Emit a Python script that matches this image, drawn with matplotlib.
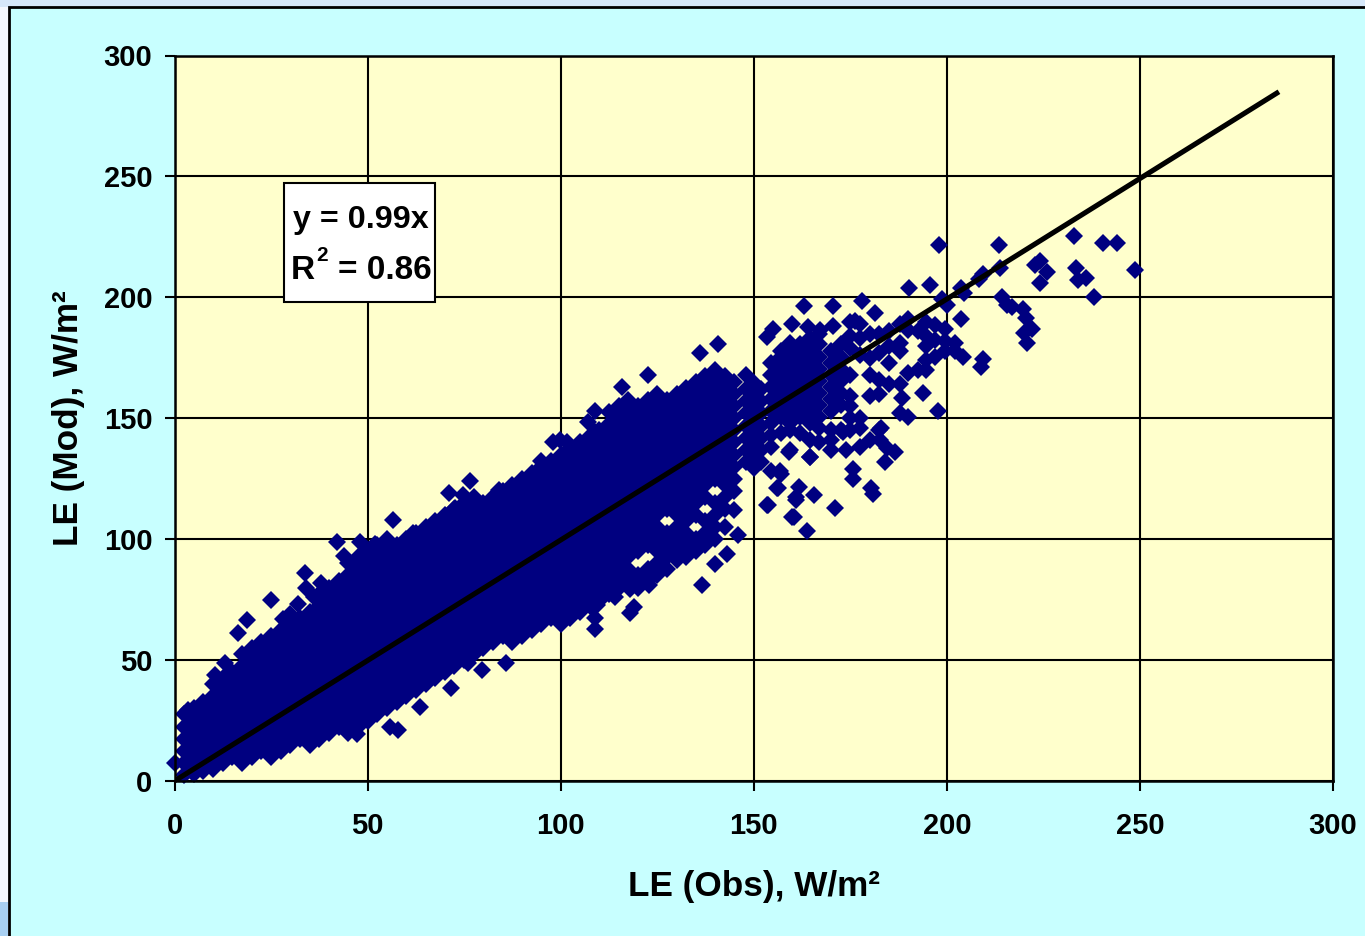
import matplotlib
matplotlib.use('Agg')
import matplotlib.pyplot as plt
from matplotlib.patches import Rectangle

plt.rcParams['font.family'] = ['Liberation Sans', 'DejaVu Sans']
plt.rcParams['font.weight'] = 'bold'

# dense part of the cloud, read column by column
col_x = [2.5, 5, 7.5, 10, 12.5, 15, 17.5, 20, 22.5, 25, 27.5, 30, 32.5, 35, 37.5, 40, 42.5, 45, 47.5, 50,
         52.5, 55, 57.5, 60, 62.5, 65, 67.5, 70, 72.5, 75, 77.5, 80, 82.5, 85, 87.5, 90, 92.5, 95, 97.5, 100,
         102.5, 105, 107.5, 110, 112.5, 115, 117.5, 120, 122.5, 125, 127.5, 130, 132.5, 135, 137.5, 140, 142.5, 145,
         148, 150, 152, 154.5, 157, 159.5, 162, 164.5, 167, 170, 172.5, 175, 177.5, 180, 182.5, 185, 188, 190, 192.5, 194.5, 197, 199.5, 202]
col_y = [
    [2.5, 7.5, 12.5, 17.5, 22.5, 27.5],
    [3, 5, 10, 15, 20, 25, 30],
    [4, 7.5, 12.5, 17.5, 22.5, 27.5, 32.5],
    [5, 10, 15, 20, 25, 30, 35, 40],
    [7.5, 12.5, 17.5, 22.5, 27.5, 32.5, 37.5, 42.5],
    [10, 15, 20, 25, 30, 35, 40, 45],
    [7.5, 12.5, 17.5, 22.5, 27.5, 32.5, 37.5, 42.5, 47.5, 52.5],
    [10, 15, 20, 25, 30, 35, 40, 45, 50, 55],
    [12.5, 17.5, 22.5, 27.5, 32.5, 37.5, 42.5, 47.5, 52.5, 57.5],
    [10, 15, 20, 25, 30, 35, 40, 45, 50, 55, 60],
    [12.5, 17.5, 22.5, 27.5, 32.5, 37.5, 42.5, 47.5, 52.5, 57.5, 62.5],
    [15, 20, 25, 30, 35, 40, 45, 50, 55, 60, 65],
    [17.5, 22.5, 27.5, 32.5, 37.5, 42.5, 47.5, 52.5, 57.5, 62.5, 67.5],
    [15, 20, 25, 30, 35, 40, 45, 50, 55, 60, 65, 70],
    [17.5, 22.5, 27.5, 32.5, 37.5, 42.5, 47.5, 52.5, 57.5, 62.5, 67.5, 72.5, 77.5],
    [20, 25, 30, 35, 40, 45, 50, 55, 60, 65, 70, 75, 80],
    [22.5, 27.5, 32.5, 37.5, 42.5, 47.5, 52.5, 57.5, 62.5, 67.5, 72.5, 77.5, 82.5],
    [20, 25, 30, 35, 40, 45, 50, 55, 60, 65, 70, 75, 80, 85, 90],
    [22.5, 27.5, 32.5, 37.5, 42.5, 47.5, 52.5, 57.5, 62.5, 67.5, 72.5, 77.5, 82.5, 87.5, 92.5],
    [25, 30, 35, 40, 45, 50, 55, 60, 65, 70, 75, 80, 85, 90, 95],
    [27.5, 32.5, 37.5, 42.5, 47.5, 52.5, 57.5, 62.5, 67.5, 72.5, 77.5, 82.5, 87.5, 92.5, 97.5],
    [30, 35, 40, 45, 50, 55, 60, 65, 70, 75, 80, 85, 90, 95, 100],
    [32.5, 37.5, 42.5, 47.5, 52.5, 57.5, 62.5, 67.5, 72.5, 77.5, 82.5, 87.5, 92.5, 97.5],
    [35, 40, 45, 50, 55, 60, 65, 70, 75, 80, 85, 90, 95, 100],
    [37.5, 42.5, 47.5, 52.5, 57.5, 62.5, 67.5, 72.5, 77.5, 82.5, 87.5, 92.5, 97.5, 102.5],
    [40, 45, 50, 55, 60, 65, 70, 75, 80, 85, 90, 95, 100, 105],
    [42.5, 47.5, 52.5, 57.5, 62.5, 67.5, 72.5, 77.5, 82.5, 87.5, 92.5, 97.5, 102.5, 107.5],
    [45, 50, 55, 60, 65, 70, 75, 80, 85, 90, 95, 100, 105, 110],
    [47.5, 52.5, 57.5, 62.5, 67.5, 72.5, 77.5, 82.5, 87.5, 92.5, 97.5, 102.5, 107.5, 112.5],
    [50, 55, 60, 65, 70, 75, 80, 85, 90, 95, 100, 105, 110, 115],
    [52.5, 57.5, 62.5, 67.5, 72.5, 77.5, 82.5, 87.5, 92.5, 97.5, 102.5, 107.5, 112.5, 117.5],
    [55, 60, 65, 70, 75, 80, 85, 90, 95, 100, 105, 110, 115],
    [57.5, 62.5, 67.5, 72.5, 77.5, 82.5, 87.5, 92.5, 97.5, 102.5, 107.5, 112.5, 117.5],
    [60, 65, 70, 75, 80, 85, 90, 95, 100, 105, 110, 115, 120],
    [57.5, 62.5, 67.5, 72.5, 77.5, 82.5, 87.5, 92.5, 97.5, 102.5, 107.5, 112.5, 117.5, 122.5],
    [60, 65, 70, 75, 80, 85, 90, 95, 100, 105, 110, 115, 120, 125],
    [62.5, 67.5, 72.5, 77.5, 82.5, 87.5, 92.5, 97.5, 102.5, 107.5, 112.5, 117.5, 122.5, 127.5],
    [65, 70, 75, 80, 85, 90, 95, 100, 105, 110, 115, 120, 125, 130],
    [67.5, 72.5, 77.5, 82.5, 87.5, 92.5, 97.5, 102.5, 107.5, 112.5, 117.5, 122.5, 127.5, 132.5],
    [65, 70, 75, 80, 85, 90, 95, 100, 105, 110, 115, 120, 125, 130, 135],
    [67.5, 72.5, 77.5, 82.5, 87.5, 92.5, 97.5, 102.5, 107.5, 112.5, 117.5, 122.5, 127.5, 132.5, 137.5],
    [70, 75, 80, 85, 90, 95, 100, 105, 110, 115, 120, 125, 130, 135, 140],
    [72.5, 77.5, 82.5, 87.5, 92.5, 97.5, 102.5, 107.5, 112.5, 117.5, 122.5, 127.5, 132.5, 137.5, 142.5],
    [75, 80, 85, 90, 95, 100, 105, 110, 115, 120, 125, 130, 135, 140, 145],
    [77.5, 82.5, 87.5, 92.5, 97.5, 102.5, 107.5, 112.5, 117.5, 122.5, 127.5, 132.5, 137.5, 142.5, 147.5, 152.5],
    [80, 85, 90, 95, 100, 105, 110, 115, 120, 125, 130, 135, 140, 145, 150, 155],
    [82.5, 87.5, 92.5, 97.5, 102.5, 107.5, 112.5, 117.5, 122.5, 127.5, 132.5, 137.5, 142.5, 147.5, 152.5, 157.5],
    [80, 85, 95, 100, 105, 110, 115, 120, 125, 130, 135, 140, 145, 150, 155],
    [82.5, 87.5, 97.5, 102.5, 107.5, 112.5, 117.5, 122.5, 127.5, 132.5, 137.5, 142.5, 147.5, 152.5, 157.5],
    [85, 90, 95, 100, 105, 110, 115, 120, 125, 130, 135, 140, 145, 150, 155, 160],
    [87.5, 92.5, 97.5, 102.5, 112.5, 117.5, 122.5, 127.5, 132.5, 137.5, 142.5, 147.5, 152.5, 157.5],
    [95, 100, 105, 110, 115, 120, 125, 130, 135, 140, 145, 150, 155, 160],
    [92.5, 97.5, 102.5, 107.5, 112.5, 117.5, 122.5, 127.5, 132.5, 137.5, 142.5, 147.5, 152.5, 157.5, 162.5],
    [95, 100, 110, 115, 120, 125, 130, 135, 140, 145, 150, 155, 160, 165],
    [97.5, 102.5, 107.5, 117.5, 122.5, 127.5, 132.5, 137.5, 142.5, 147.5, 152.5, 157.5, 162.5, 167.5],
    [100, 105, 110, 115, 125, 130, 135, 140, 145, 150, 155, 160, 165, 170],
    [105, 112.5, 117.5, 122.5, 127.5, 132.5, 137.5, 142.5, 147.5, 152.5, 157.5, 162.5, 167.5],
    [112, 120, 125, 130, 135, 140, 145, 150, 155, 160, 165],
    [132, 137, 142, 147, 152, 157, 162, 168],
    [129.5, 134.5, 139.5, 144.5, 149.5, 154.5, 159.5, 164.5],
    [132, 137, 142, 147, 152, 157, 162],
    [128, 138, 143, 148, 153, 158, 163, 168, 173],
    [144, 150.5, 155.5, 160.5, 165.5, 170.5, 175.5, 178],
    [137, 145, 148, 153, 158, 163, 168, 173, 178, 181],
    [144, 150.5, 155.5, 160.5, 165.5, 170.5, 175.5, 180.5],
    [134, 141, 148, 153, 158, 163, 168, 173, 178, 183],
    [140, 146, 150.5, 155.5, 160.5, 165.5, 170.5, 175.5, 180.5, 185],
    [137, 141, 145, 153, 158, 163, 168, 173, 178],
    [145, 155.5, 160.5, 165.5, 170.5, 175.5, 180.5],
    [145, 150, 155, 159, 168, 179, 184, 190],
    [138, 146, 150, 176, 183, 189],
    [141, 159, 168, 175, 185],
    [145, 160, 166, 177, 185],
    [164, 173, 180, 186],
    [164, 178, 181, 189],
    [168.6, 186.6, 191],
    [170, 186],
    [170, 174, 180, 184, 190],
    [175.5, 182.4, 188.6],
    [178, 182, 187],
    [178, 181],
]

# scattered points around the edge of the cloud
out_x = [0, 3.5, 10.4, 13, 16.5, 18.7, 25, 33.8, 42, 48, 55.9, 47.3, 63.6, 71.5, 56.6, 61.8, 65, 71, 74.7, 72.6,
         76.4, 84, 90.3, 95, 98, 98, 99.8, 101.6, 107, 109, 109, 115.9, 122.6, 136, 140.7, 136.6, 140, 130, 123, 119,
         118, 118, 114, 111, 109.4, 109, 109, 143, 146, 153.4, 156, 157, 160, 161, 159, 85.8, 79.6, 76,
         198, 213.5, 233, 240.5, 244, 248.6, 224, 222.8, 226, 224, 233.4, 234, 236, 238, 213.7, 209.4, 208.4, 203.6, 204.4, 195.6,
         190.3, 198.7, 200, 203.7, 214.3, 215.5, 217, 219.6, 220.5, 222, 220, 220.7, 209.4, 208.9, 204.2, 178, 170.4, 163, 181.4, 159.8,
         155, 153.4, 170.4, 176.2, 164, 167.2, 197.8, 193.7, 188.5, 187.9, 189.9, 183, 182.7, 186.5, 184, 184.5, 175.8, 175.6, 180.3, 181,
         171, 165.6, 161.7, 161, 156.4, 153.7, 160.4, 163.9, 173.2, 164.6, 156.8, 174,
         30, 32, 38, 44, 52, 58, 28, 34, 36]
out_y = [7.4, 29.4, 43.8, 49, 61, 66.6, 75, 86, 99, 99, 22.5, 19.5, 30.7, 38.4, 108, 102.6, 103, 119, 118.3, 113,
         124, 120.4, 124, 132.4, 140, 131.5, 141, 140, 148.5, 153, 144.5, 163, 168, 177, 180.7, 81, 89.7, 91.4, 81, 72,
         69.5, 79.4, 76, 76, 72.8, 67.4, 63, 94, 101.7, 114, 121, 127, 109, 117.5, 136, 49, 46, 48.8,
         221.8, 221.8, 225.5, 222.6, 222.6, 211.5, 215, 213.4, 210.6, 205.8, 212, 207, 208, 200, 212.3, 209.7, 207.5, 204, 201.7, 205,
         204, 199.2, 196.7, 191, 200, 197, 196, 195, 191.3, 187, 185.4, 181.3, 174.5, 171, 175.2, 198.6, 196.6, 196.6, 193.7, 189,
         187, 183.5, 188, 190.4, 187.6, 186.5, 153, 160.3, 158.2, 152, 150.6, 145.8, 141, 135.9, 132, 137.5, 129, 125, 121, 118.7,
         112.8, 118.3, 121.5, 116, 121, 114, 109, 103.4, 144.5, 134, 128, 137,
         69, 73, 82, 93, 98, 21, 67, 80, 76]

fit_x = [0, 286]
fit_y = [0, 285]

ticks = [0, 50, 100, 150, 200, 250, 300]

W, H = 1365, 936
fig = plt.figure(figsize=(W / 100, H / 100), dpi=100, facecolor='#f4f8fe')

# panel behind the chart, with the slide showing along the top and left
fig.patches.append(Rectangle((0, 1 - 7 / H), 1, 7 / H, transform=fig.transFigure, fc='#d6e8fa', ec='none'))
fig.patches.append(Rectangle((0, 0), 8 / W, 34 / H, transform=fig.transFigure, fc='#a9d0f2', ec='none'))
fig.patches.append(Rectangle((9 / W, -0.01), 1.01, 1 - 7 / H + 0.01, transform=fig.transFigure,
                             fc='#c8ffff', ec='black', lw=2))

ax = fig.add_axes([174.5 / W, (H - 781) / H, (1333 - 174.5) / W, (781 - 55.5) / H])
ax.set_zorder(5)
ax.set_facecolor('#ffffcc')
ax.set_axisbelow(True)
ax.grid(True, color='black', lw=1.5)

xs = []
ys = []
for x, col in zip(col_x, col_y):
    for y in col:
        xs.append(x)
        ys.append(y)
ax.plot(xs + out_x, ys + out_y, 'D', ms=9.5, mew=0, color='#000080', clip_on=False, zorder=3)
ax.plot(fit_x, fit_y, color='black', lw=3.7, solid_capstyle='butt', zorder=4)

ax.set_xlim(0, 300)
ax.set_ylim(0, 300)
ax.set_xticks(ticks)
ax.set_yticks(ticks)
ax.tick_params(length=7, width=1.5, labelsize=21, pad=15)
ax.tick_params(axis='y', pad=9)
for s in ax.spines.values():
    s.set_linewidth(1.8)
    s.set_zorder(5)

ax.set_xlabel('LE (Obs), W/m²', fontsize=25.3, fontweight='bold', labelpad=22)
ax.set_ylabel('LE (Mod), W/m²', fontsize=25.3, fontweight='bold', labelpad=13)

# equation box
ax.add_patch(Rectangle((28.4, 198), 39, 49.2, fc='white', ec='black', lw=1.5, zorder=6))
ax.text(48.2, 232, 'y = 0.99x', fontsize=23.2, ha='center', va='center', zorder=7)
ax.text(30.2, 211, 'R', fontsize=24, ha='left', va='center', zorder=7)
ax.text(38.1, 217.5, '2', fontsize=15, ha='center', va='center', zorder=7)
ax.text(42.3, 211, '= 0.86', fontsize=24, ha='left', va='center', zorder=7)

fig.savefig('out.png', dpi=100, facecolor=fig.get_facecolor())
plt.close(fig)
